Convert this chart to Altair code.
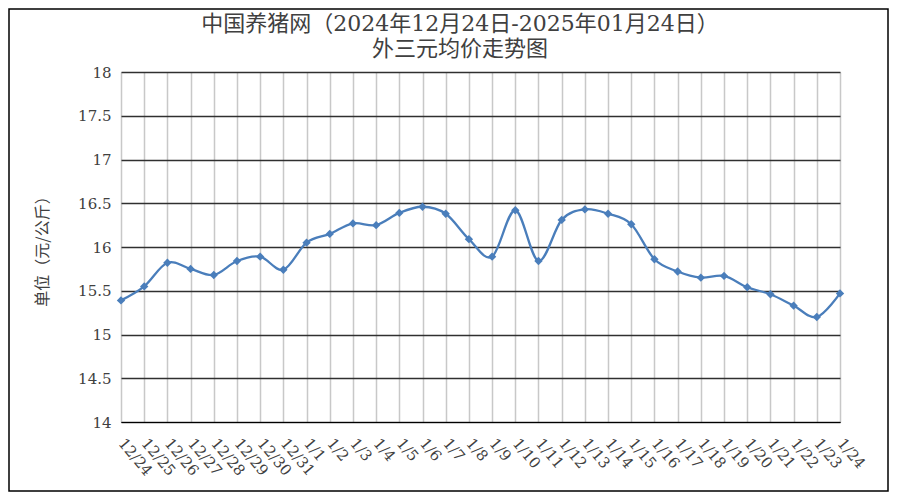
import altair as alt
import pandas as pd

dates = ["12/24", "12/25", "12/26", "12/27", "12/28", "12/29", "12/30", "12/31",
         "1/1", "1/2", "1/3", "1/4", "1/5", "1/6", "1/7", "1/8", "1/9", "1/10",
         "1/11", "1/12", "1/13", "1/14", "1/15", "1/16", "1/17", "1/18", "1/19",
         "1/20", "1/21", "1/22", "1/23", "1/24"]
prices = [15.39, 15.55, 15.82, 15.75, 15.68, 15.84, 15.89, 15.74,
          16.05, 16.15, 16.27, 16.25, 16.39, 16.46, 16.38, 16.09, 15.89, 16.42,
          15.84, 16.31, 16.43, 16.38, 16.26, 15.86, 15.72, 15.65, 15.67,
          15.54, 15.46, 15.33, 15.20, 15.47]
y_ticks = [14, 14.5, 15, 15.5, 16, 16.5, 17, 17.5, 18]
title_line1 = "中国养猪网（2024年12月24日-2025年01月24日）"
title_line2 = "外三元均价走势图"
y_title = "单位（元/公斤）"

df = pd.DataFrame({"date": dates, "price": prices})

W, H = 719, 350
PL, PT, PR, PB = 113, 64, 49, 70
BLUE = "#4a7ebb"
TITLE_FONT = "DejaVu Serif, Noto Sans CJK SC"

x_enc = alt.X("date:O", sort=dates, scale=alt.Scale(type="point", padding=0),
              axis=alt.Axis(title=None, labelAngle=50, labelAlign="left", labelBaseline="middle",
                            labelPadding=18, ticks=False, domain=True, domainColor="#000000",
                            domainWidth=1.2, grid=True, gridColor="#c8c8c8", gridWidth=1.5,
                            labelFont="DejaVu Serif", labelFontSize=15, labelColor="#404040",
                            labelOverlap=False))
y_enc = alt.Y("price:Q", scale=alt.Scale(domain=[14, 18], nice=False, zero=False),
              axis=alt.Axis(title=y_title, values=y_ticks, format="~g", grid=True,
                            gridColor="#303030", gridWidth=1.3, domain=False, ticks=False,
                            labelPadding=10, labelFont="DejaVu Serif", labelFontSize=15,
                            labelColor="#404040", titleFont="Noto Sans CJK SC",
                            titleFontSize=16, titleFontWeight="normal", titleColor="#404040",
                            titleAngle=-90, titleX=-79, titleY=175, titleAlign="center",
                            titleBaseline="middle"))

line = alt.Chart(df).mark_line(interpolate="cardinal", tension=0, color=BLUE, strokeWidth=2.3).encode(
    x=x_enc, y=y_enc)
pts = alt.Chart(df).mark_point(shape="diamond", filled=True, color=BLUE, size=70, opacity=1).encode(
    x=alt.X("date:O", sort=dates), y="price:Q")
frame = alt.Chart(alt.Data(values=[{}])).mark_rect(filled=False, stroke="#000000", strokeWidth=1.5).encode(
    x=alt.value(-PL + 1), x2=alt.value(W + PR - 1),
    y=alt.value(-PT + 1), y2=alt.value(H + PB - 1))
t1 = alt.Chart(alt.Data(values=[{}])).mark_text(
    font=TITLE_FONT, fontSize=22, color="#404040", align="center", baseline="middle").encode(
    x=alt.value(339), y=alt.value(-48), text=alt.value(title_line1))
t2 = alt.Chart(alt.Data(values=[{}])).mark_text(
    font=TITLE_FONT, fontSize=22, color="#404040", align="center", baseline="middle").encode(
    x=alt.value(339), y=alt.value(-23), text=alt.value(title_line2))

chart = alt.layer(line, pts, frame, t1, t2).properties(
    width=W, height=H,
    autosize=alt.AutoSizeParams(type="none"),
    padding={"left": PL, "top": PT, "right": PR, "bottom": PB},
).configure_view(stroke=None).configure(background="white")

chart.save("out.html", embed_options={"renderer": "svg", "actions": False})
